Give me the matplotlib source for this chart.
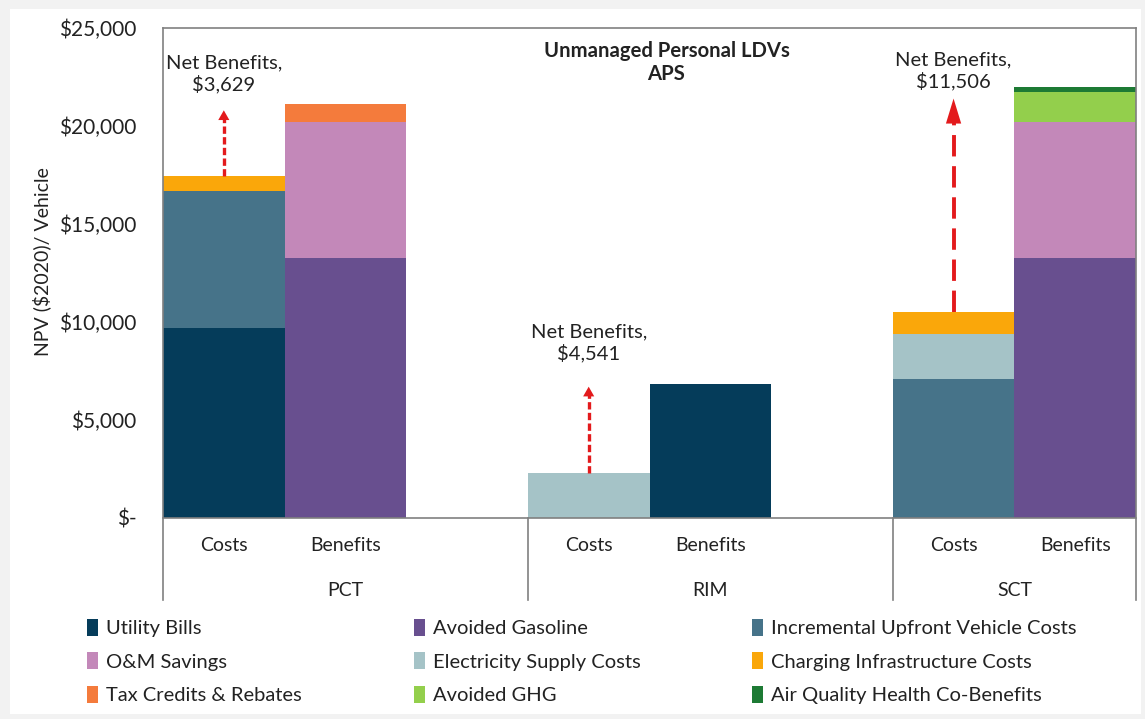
import numpy as np
import matplotlib.pyplot as plt
from matplotlib.patches import Rectangle
from matplotlib.transforms import blended_transform_factory

plt.rcParams['font.family'] = ['Lato', 'DejaVu Sans']

# bar order: PCT Costs, PCT Benefits, RIM Costs, RIM Benefits, SCT Costs, SCT Benefits
bar_slots = [0, 1, 3, 4, 6, 7]
bar_labels = ["Costs", "Benefits", "Costs", "Benefits", "Costs", "Benefits"]
groups = ["PCT", "RIM", "SCT"]
group_bounds = [0, 3, 6, 8]

series_names = [
    "Utility Bills", "Avoided Gasoline", "Incremental Upfront Vehicle Costs",
    "O&M Savings", "Electricity Supply Costs", "Charging Infrastructure Costs",
    "Tax Credits & Rebates", "Avoided GHG", "Air Quality Health Co-Benefits",
]
series_colors = [
    "#053C5A", "#684F8F", "#467389",
    "#C388B9", "#A5C3C7", "#FAA70A",
    "#F47B3C", "#93CF4C", "#1D7A34",
]
utility_bills = [9700, 0, 0, 6850, 0, 0]
avoided_gasoline = [0, 13270, 0, 0, 0, 13270]
upfront_vehicle = [7000, 0, 0, 0, 7070, 0]
om_savings = [0, 6950, 0, 0, 0, 6950]
electricity_supply = [0, 0, 2310, 0, 2330, 0]
charging_infra = [770, 0, 0, 0, 1100, 0]
tax_credits = [0, 900, 0, 0, 0, 0]
avoided_ghg = [0, 0, 0, 0, 0, 1500]
air_quality = [0, 0, 0, 0, 0, 260]
series_values = [utility_bills, avoided_gasoline, upfront_vehicle, om_savings,
                 electricity_supply, charging_infra, tax_credits, avoided_ghg, air_quality]

# net benefit arrows (one per group, drawn above the Costs bar)
net_benefits = ["$3,629", "$4,541", "$11,506"]
arrow_tips = [20800, 6700, 21400]
net_label_y = [22650, 8930, 22800]

red = "#E31A1C"

fig = plt.figure(figsize=(11.45, 7.19), dpi=100)
fig.patch.set_facecolor("#f2f2f2")
fig.patches.append(Rectangle((10 / 1145, 5 / 719), 1131 / 1145, 705 / 719,
                             transform=fig.transFigure, facecolor="white",
                             edgecolor="none", zorder=-1))

ax = fig.add_axes([163 / 1145, 1 - 518 / 719, 973 / 1145, 490 / 719])
centers = np.array(bar_slots) + 0.5

bottom = np.zeros(len(bar_slots))
handles = []
for name, color, vals in zip(series_names, series_colors, series_values):
    vals = np.array(vals, dtype=float)
    h = ax.bar(centers, vals, width=1.0, bottom=bottom, color=color, label=name,
               edgecolor="none", zorder=2)
    handles.append(h)
    bottom += vals

ax.set_xlim(0, 8)
ax.set_ylim(0, 25000)
ax.set_yticks(np.arange(0, 25001, 5000))
ax.set_yticklabels(["$-" if v == 0 else f"${v:,.0f}" for v in range(0, 25001, 5000)])
ax.tick_params(axis="y", length=0, pad=19, labelsize=15, labelcolor="#222222")
ax.set_xticks(centers)
ax.set_xticklabels(bar_labels)
ax.tick_params(axis="x", length=0, pad=14, labelsize=14, labelcolor="#222222")

line_color = "#808080"
for s in ["left", "right", "bottom"]:
    ax.spines[s].set_visible(False)
ax.spines["top"].set_color(line_color)
ax.spines["top"].set_linewidth(1.2)
trans = blended_transform_factory(ax.transData, ax.transAxes)
ax.plot([0, 8], [0, 0], color=line_color, lw=1.2, transform=trans, clip_on=False, zorder=3)
for i, xb in enumerate(group_bounds):
    top = 1 if i in (0, len(group_bounds) - 1) else 0
    ax.plot([xb, xb], [-0.167, top], color=line_color, lw=1.2, transform=trans,
            clip_on=False, zorder=3)
for g, a, b in zip(groups, group_bounds[:-1], group_bounds[1:]):
    ax.text((a + b) / 2, -0.147, g, transform=trans, ha="center", va="center",
            fontsize=14, color="#222222")

# net benefits arrows
costs_totals = [bottom[0], bottom[2], bottom[4]]
arrow_x = [centers[0], centers[2], centers[4]]
arrow_styles = [
    dict(lw=2.4, dash=(2.2, 1.0), hl=7, hw=4),
    dict(lw=2.4, dash=(2.2, 1.0), hl=7, hw=4),
    dict(lw=2.8, dash=(5.5, 2.5), hl=18, hw=5.5),
]
for xc, base, tip, st in zip(arrow_x, costs_totals, arrow_tips, arrow_styles):
    head = st["hl"] / 0.72 / 19.6 * 1000
    ax.plot([xc, xc], [base, tip - head * 0.9], color=red, lw=st["lw"],
            linestyle=(0, st["dash"]), solid_capstyle="butt", zorder=4)
    ax.annotate("", xy=(xc, tip), xytext=(xc, tip - head),
                arrowprops=dict(arrowstyle=f"-|>,head_length={st['hl']},head_width={st['hw']}",
                                color=red, lw=0, mutation_scale=1,
                                shrinkA=0, shrinkB=0), zorder=5)
for xc, txt, ly in zip(arrow_x, net_benefits, net_label_y):
    ax.text(xc, ly, f"Net Benefits,\n{txt}", ha="center", va="center", fontsize=14.5,
            color="#222222", linespacing=1.2, zorder=5)

ax.text(4.14, 23260, "Unmanaged Personal LDVs\nAPS", ha="center", va="center",
        fontsize=14.6, fontweight="bold", color="#222222", linespacing=1.2)

fig.text(42 / 1145, 1 - 262 / 719, "NPV ($2020)/ Vehicle", rotation=90,
         ha="center", va="center", fontsize=14, color="#222222")

# legend: row-wise order in the picture, matplotlib fills by column
order = [0, 3, 6, 1, 4, 7, 2, 5, 8]
fig.legend([handles[i] for i in order], [series_names[i] for i in order], ncol=3,
           loc="upper left", bbox_to_anchor=(87 / 1145, 1 - 619 / 719),
           frameon=False, fontsize=14.5, handlelength=0.55, handleheight=0.9,
           handletextpad=0.4, columnspacing=5.55, labelspacing=0.75,
           borderpad=0, borderaxespad=0, labelcolor="#222222")

fig.savefig("out.png", dpi=100, facecolor=fig.get_facecolor())
